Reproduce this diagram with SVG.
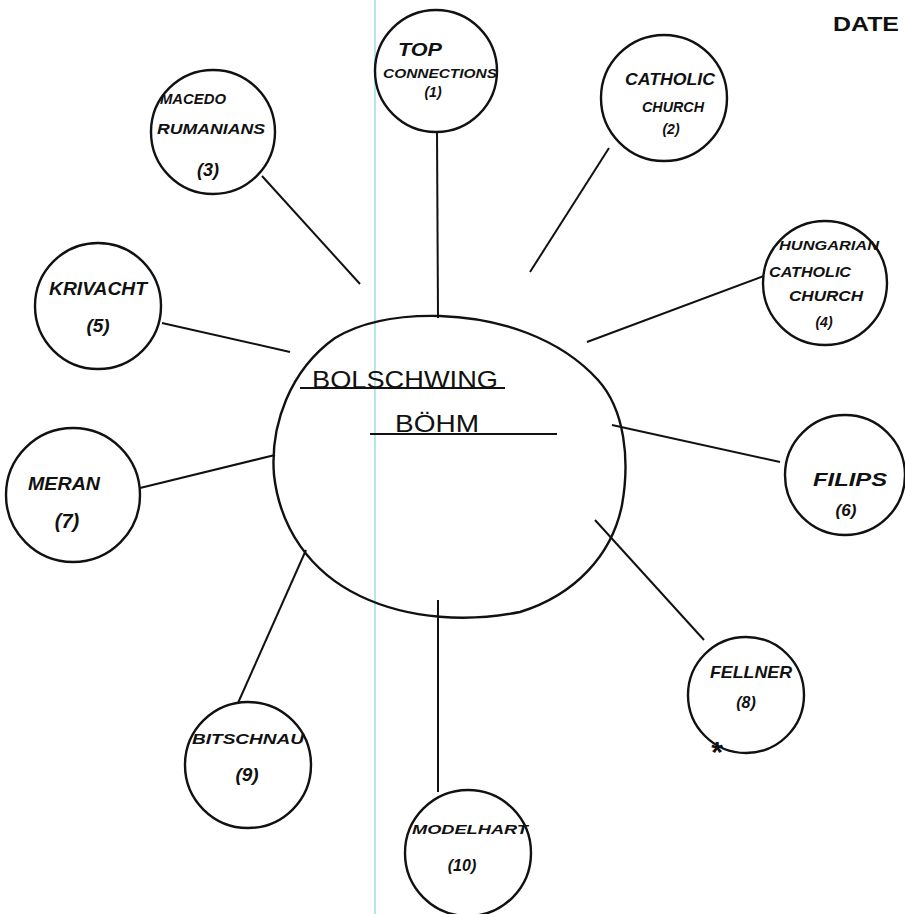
<svg xmlns="http://www.w3.org/2000/svg" width="905" height="914" viewBox="0 0 905 914">
<style>
.c{fill:none;stroke:#111;stroke-width:2.4}
.l{fill:none;stroke:#111;stroke-width:2}
.t{font-family:"Liberation Sans",Arial,sans-serif;font-weight:bold;font-style:italic;fill:#111;text-anchor:middle}
.m{font-family:"Liberation Sans",Arial,sans-serif;fill:#111}
</style>
<rect width="905" height="914" fill="#fff"/>
<line x1="375" y1="0" x2="375" y2="914" stroke="#9fdde6" stroke-width="1.5"/>
<text x="866" y="31" class="m" font-size="21" font-weight="bold" text-anchor="middle" textLength="66" lengthAdjust="spacingAndGlyphs">DATE</text>
<g id="connectors">
<line class="l" x1="437" y1="131" x2="438" y2="318"/>
<line class="l" x1="609" y1="148" x2="530" y2="272"/>
<line class="l" x1="262" y1="176" x2="360" y2="284"/>
<line class="l" x1="764" y1="276" x2="587" y2="342"/>
<line class="l" x1="162" y1="323" x2="290" y2="352"/>
<line class="l" x1="612" y1="425" x2="780" y2="462"/>
<line class="l" x1="140" y1="488" x2="275" y2="455"/>
<line class="l" x1="595" y1="520" x2="704" y2="640"/>
<line class="l" x1="306" y1="550" x2="238" y2="703"/>
<line class="l" x1="438" y1="600" x2="438" y2="792"/>
</g>
<g id="center">
<path class="c" d="M440,316 C500,318 560,338 598,380 C625,410 630,460 622,505 C612,555 575,595 520,612 C470,622 410,620 360,596 C310,572 280,528 274,475 C270,425 290,370 335,338 C365,320 400,315 440,316 Z"/>
<text x="405" y="388" class="m" font-size="24" text-anchor="middle" textLength="186" lengthAdjust="spacingAndGlyphs">BOLSCHWING</text>
<line class="l" x1="300" y1="388" x2="505" y2="388"/>
<text x="437" y="432" class="m" font-size="24" text-anchor="middle" textLength="84" lengthAdjust="spacingAndGlyphs">BÖHM</text>
<line class="l" x1="370" y1="434" x2="557" y2="434"/>
</g>
<g id="n1">
<circle class="c" cx="436" cy="71" r="61"/>
<text x="420" y="56" class="t" font-size="18" textLength="44" lengthAdjust="spacingAndGlyphs">TOP</text>
<text x="440" y="78" class="t" font-size="13" textLength="114" lengthAdjust="spacingAndGlyphs">CONNECTIONS</text>
<text x="433" y="97" class="t" font-size="14">(1)</text>
</g>
<g id="n2">
<circle class="c" cx="664" cy="98" r="63"/>
<text x="670" y="85" class="t" font-size="17" textLength="90" lengthAdjust="spacingAndGlyphs">CATHOLIC</text>
<text x="673" y="112" class="t" font-size="15" textLength="62" lengthAdjust="spacingAndGlyphs">CHURCH</text>
<text x="671" y="134" class="t" font-size="14">(2)</text>
</g>
<g id="n3">
<circle class="c" cx="213" cy="132" r="62"/>
<text x="193" y="104" class="t" font-size="15" textLength="66" lengthAdjust="spacingAndGlyphs">MACEDO</text>
<text x="211" y="134" class="t" font-size="15" textLength="108" lengthAdjust="spacingAndGlyphs">RUMANIANS</text>
<text x="208" y="176" class="t" font-size="18">(3)</text>
</g>
<g id="n4">
<circle class="c" cx="825" cy="283" r="62"/>
<text x="829" y="250" class="t" font-size="13" textLength="100" lengthAdjust="spacingAndGlyphs">HUNGARIAN</text>
<text x="810" y="277" class="t" font-size="15" textLength="82" lengthAdjust="spacingAndGlyphs">CATHOLIC</text>
<text x="826" y="301" class="t" font-size="15" textLength="74" lengthAdjust="spacingAndGlyphs">CHURCH</text>
<text x="824" y="327" class="t" font-size="14">(4)</text>
</g>
<g id="n5">
<circle class="c" cx="98" cy="306" r="63"/>
<text x="98" y="295" class="t" font-size="18" textLength="98" lengthAdjust="spacingAndGlyphs">KRIVACHT</text>
<text x="98" y="332" class="t" font-size="19">(5)</text>
</g>
<g id="n6">
<circle class="c" cx="845" cy="475" r="60"/>
<text x="850" y="486" class="t" font-size="19" textLength="74" lengthAdjust="spacingAndGlyphs">FILIPS</text>
<text x="846" y="516" class="t" font-size="17">(6)</text>
</g>
<g id="n7">
<circle class="c" cx="73" cy="495" r="67"/>
<text x="64" y="490" class="t" font-size="18" textLength="72" lengthAdjust="spacingAndGlyphs">MERAN</text>
<text x="67" y="528" class="t" font-size="20">(7)</text>
</g>
<g id="n8">
<circle class="c" cx="746" cy="695" r="58"/>
<text x="751" y="678" class="t" font-size="17" textLength="82" lengthAdjust="spacingAndGlyphs">FELLNER</text>
<text x="746" y="708" class="t" font-size="16">(8)</text>
<text x="717" y="762" class="m" font-size="30" font-weight="bold" text-anchor="middle">*</text>
</g>
<g id="n9">
<circle class="c" cx="248" cy="765" r="63"/>
<text x="248" y="744" class="t" font-size="14" textLength="112" lengthAdjust="spacingAndGlyphs">BITSCHNAU</text>
<text x="247" y="781" class="t" font-size="19">(9)</text>
</g>
<g id="n10">
<circle class="c" cx="468" cy="853" r="63"/>
<text x="470" y="834" class="t" font-size="12" textLength="116" lengthAdjust="spacingAndGlyphs">MODELHART</text>
<text x="462" y="871" class="t" font-size="16">(10)</text>
</g>
</svg>
